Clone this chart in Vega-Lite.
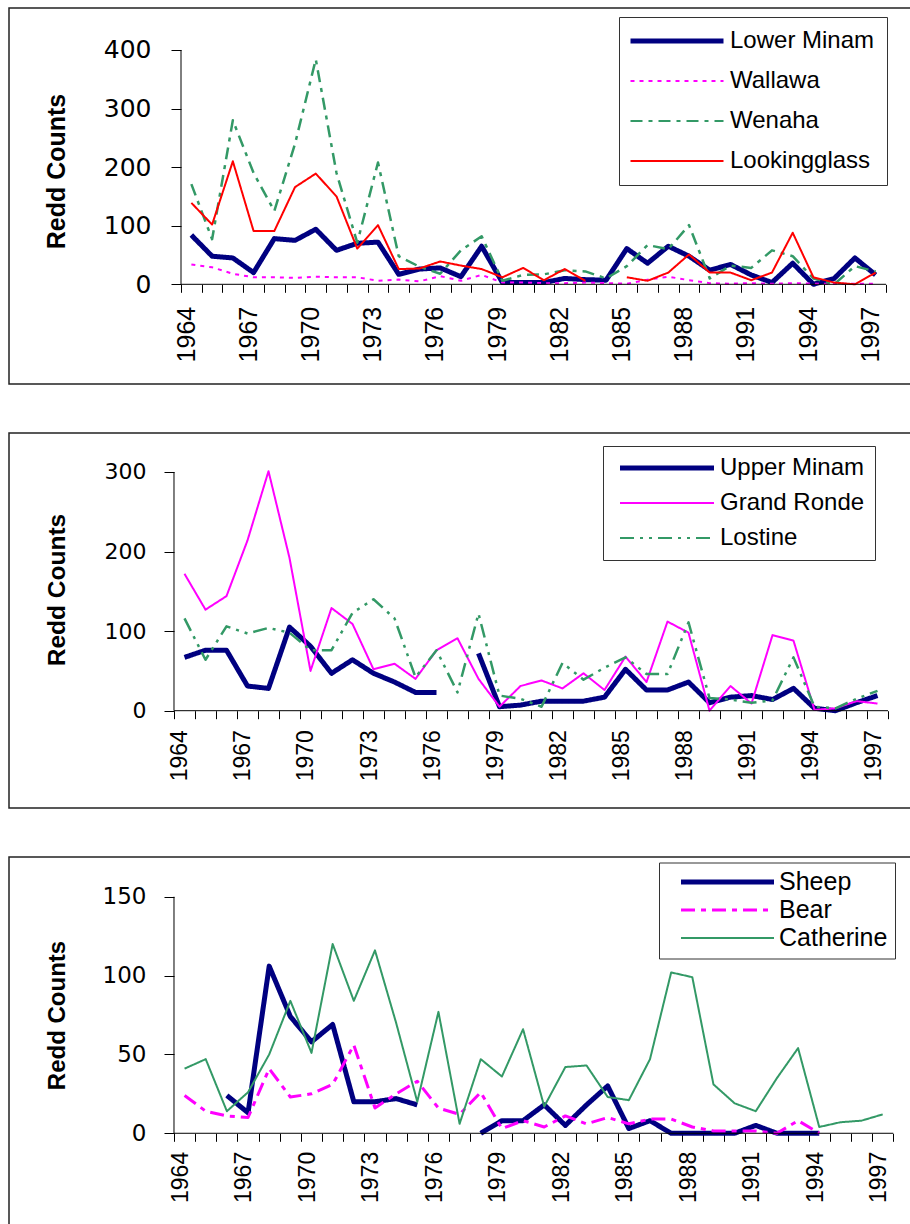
{
  "$schema": "https://vega.github.io/schema/vega-lite/v6.json",
  "background": "white",
  "padding": {"left": 8, "top": 7, "right": 0, "bottom": 0},
  "spacing": 47,
  "resolve": {"scale": {"color": "independent", "strokeDash": "independent"}, "legend": {"color": "independent", "strokeDash": "independent"}},
  "config": {
    "view": {"stroke": "#222", "strokeWidth": 1.5},
    "axis": {"labelColor": "#000", "tickColor": "#000", "titleColor": "#000", "grid": false, "domain": false, "ticks": true, "tickWidth": 1, "tickOpacity": 1, "labelOverlap": false, "labelFlush": false, "labelBound": false}
  },
  "datasets": {
    "d": [
      {"panel":1,"site":"Lower Minam","year":1964,"count":84},{"panel":1,"site":"Lower Minam","year":1965,"count":48},{"panel":1,"site":"Lower Minam","year":1966,"count":45},{"panel":1,"site":"Lower Minam","year":1967,"count":20},{"panel":1,"site":"Lower Minam","year":1968,"count":78},{"panel":1,"site":"Lower Minam","year":1969,"count":75},{"panel":1,"site":"Lower Minam","year":1970,"count":94},{"panel":1,"site":"Lower Minam","year":1971,"count":58},{"panel":1,"site":"Lower Minam","year":1972,"count":70},{"panel":1,"site":"Lower Minam","year":1973,"count":72},{"panel":1,"site":"Lower Minam","year":1974,"count":17},{"panel":1,"site":"Lower Minam","year":1975,"count":26},{"panel":1,"site":"Lower Minam","year":1976,"count":28},{"panel":1,"site":"Lower Minam","year":1977,"count":13},{"panel":1,"site":"Lower Minam","year":1978,"count":65},{"panel":1,"site":"Lower Minam","year":1979,"count":3},{"panel":1,"site":"Lower Minam","year":1980,"count":3},{"panel":1,"site":"Lower Minam","year":1981,"count":3},{"panel":1,"site":"Lower Minam","year":1982,"count":10},{"panel":1,"site":"Lower Minam","year":1983,"count":8},{"panel":1,"site":"Lower Minam","year":1984,"count":7},{"panel":1,"site":"Lower Minam","year":1985,"count":61},{"panel":1,"site":"Lower Minam","year":1986,"count":36},{"panel":1,"site":"Lower Minam","year":1987,"count":65},{"panel":1,"site":"Lower Minam","year":1988,"count":48},{"panel":1,"site":"Lower Minam","year":1989,"count":24},{"panel":1,"site":"Lower Minam","year":1990,"count":34},{"panel":1,"site":"Lower Minam","year":1991,"count":16},{"panel":1,"site":"Lower Minam","year":1992,"count":3},{"panel":1,"site":"Lower Minam","year":1993,"count":36},{"panel":1,"site":"Lower Minam","year":1994,"count":0},{"panel":1,"site":"Lower Minam","year":1995,"count":10},{"panel":1,"site":"Lower Minam","year":1996,"count":45},{"panel":1,"site":"Lower Minam","year":1997,"count":16},
      {"panel":1,"site":"Wallawa","year":1964,"count":34},{"panel":1,"site":"Wallawa","year":1965,"count":29},{"panel":1,"site":"Wallawa","year":1966,"count":18},{"panel":1,"site":"Wallawa","year":1967,"count":12},{"panel":1,"site":"Wallawa","year":1968,"count":12},{"panel":1,"site":"Wallawa","year":1969,"count":11},{"panel":1,"site":"Wallawa","year":1970,"count":13},{"panel":1,"site":"Wallawa","year":1971,"count":12},{"panel":1,"site":"Wallawa","year":1972,"count":12},{"panel":1,"site":"Wallawa","year":1973,"count":6},{"panel":1,"site":"Wallawa","year":1974,"count":8},{"panel":1,"site":"Wallawa","year":1975,"count":5},{"panel":1,"site":"Wallawa","year":1976,"count":14},{"panel":1,"site":"Wallawa","year":1977,"count":6},{"panel":1,"site":"Wallawa","year":1978,"count":16},{"panel":1,"site":"Wallawa","year":1979,"count":3},{"panel":1,"site":"Wallawa","year":1980,"count":3},{"panel":1,"site":"Wallawa","year":1981,"count":2},{"panel":1,"site":"Wallawa","year":1982,"count":2},{"panel":1,"site":"Wallawa","year":1983,"count":3},{"panel":1,"site":"Wallawa","year":1984,"count":2},{"panel":1,"site":"Wallawa","year":1985,"count":1},{"panel":1,"site":"Wallawa","year":1986,"count":8},{"panel":1,"site":"Wallawa","year":1987,"count":13},{"panel":1,"site":"Wallawa","year":1988,"count":7},{"panel":1,"site":"Wallawa","year":1989,"count":2},{"panel":1,"site":"Wallawa","year":1990,"count":1},{"panel":1,"site":"Wallawa","year":1991,"count":2},{"panel":1,"site":"Wallawa","year":1992,"count":1},{"panel":1,"site":"Wallawa","year":1993,"count":2},{"panel":1,"site":"Wallawa","year":1994,"count":1},{"panel":1,"site":"Wallawa","year":1995,"count":1},{"panel":1,"site":"Wallawa","year":1996,"count":1},{"panel":1,"site":"Wallawa","year":1997,"count":1},
      {"panel":1,"site":"Wenaha","year":1964,"count":171},{"panel":1,"site":"Wenaha","year":1965,"count":77},{"panel":1,"site":"Wenaha","year":1966,"count":280},{"panel":1,"site":"Wenaha","year":1967,"count":190},{"panel":1,"site":"Wenaha","year":1968,"count":125},{"panel":1,"site":"Wenaha","year":1969,"count":240},{"panel":1,"site":"Wenaha","year":1970,"count":384},{"panel":1,"site":"Wenaha","year":1971,"count":190},{"panel":1,"site":"Wenaha","year":1972,"count":71},{"panel":1,"site":"Wenaha","year":1973,"count":208},{"panel":1,"site":"Wenaha","year":1974,"count":48},{"panel":1,"site":"Wenaha","year":1975,"count":30},{"panel":1,"site":"Wenaha","year":1976,"count":18},{"panel":1,"site":"Wenaha","year":1977,"count":58},{"panel":1,"site":"Wenaha","year":1978,"count":82},{"panel":1,"site":"Wenaha","year":1979,"count":6},{"panel":1,"site":"Wenaha","year":1980,"count":16},{"panel":1,"site":"Wenaha","year":1981,"count":17},{"panel":1,"site":"Wenaha","year":1982,"count":24},{"panel":1,"site":"Wenaha","year":1983,"count":22},{"panel":1,"site":"Wenaha","year":1984,"count":10},{"panel":1,"site":"Wenaha","year":1985,"count":31},{"panel":1,"site":"Wenaha","year":1986,"count":67},{"panel":1,"site":"Wenaha","year":1987,"count":60},{"panel":1,"site":"Wenaha","year":1988,"count":101},{"panel":1,"site":"Wenaha","year":1989,"count":10},{"panel":1,"site":"Wenaha","year":1990,"count":32},{"panel":1,"site":"Wenaha","year":1991,"count":28},{"panel":1,"site":"Wenaha","year":1992,"count":58},{"panel":1,"site":"Wenaha","year":1993,"count":48},{"panel":1,"site":"Wenaha","year":1994,"count":10},{"panel":1,"site":"Wenaha","year":1995,"count":0},{"panel":1,"site":"Wenaha","year":1996,"count":31},{"panel":1,"site":"Wenaha","year":1997,"count":22},
      {"panel":1,"site":"Lookingglass","year":1964,"count":139},{"panel":1,"site":"Lookingglass","year":1965,"count":102},{"panel":1,"site":"Lookingglass","year":1966,"count":210},{"panel":1,"site":"Lookingglass","year":1967,"count":91},{"panel":1,"site":"Lookingglass","year":1968,"count":91},{"panel":1,"site":"Lookingglass","year":1969,"count":166},{"panel":1,"site":"Lookingglass","year":1970,"count":189},{"panel":1,"site":"Lookingglass","year":1971,"count":150},{"panel":1,"site":"Lookingglass","year":1972,"count":61},{"panel":1,"site":"Lookingglass","year":1973,"count":101},{"panel":1,"site":"Lookingglass","year":1974,"count":26},{"panel":1,"site":"Lookingglass","year":1975,"count":27},{"panel":1,"site":"Lookingglass","year":1976,"count":39},{"panel":1,"site":"Lookingglass","year":1977,"count":32},{"panel":1,"site":"Lookingglass","year":1978,"count":26},{"panel":1,"site":"Lookingglass","year":1979,"count":12},{"panel":1,"site":"Lookingglass","year":1980,"count":28},{"panel":1,"site":"Lookingglass","year":1981,"count":7},{"panel":1,"site":"Lookingglass","year":1982,"count":26},{"panel":1,"site":"Lookingglass","year":1983,"count":6},{"panel":1,"site":"Lookingglass","year":1984,"count":null},{"panel":1,"site":"Lookingglass","year":1985,"count":12},{"panel":1,"site":"Lookingglass","year":1986,"count":6},{"panel":1,"site":"Lookingglass","year":1987,"count":20},{"panel":1,"site":"Lookingglass","year":1988,"count":51},{"panel":1,"site":"Lookingglass","year":1989,"count":20},{"panel":1,"site":"Lookingglass","year":1990,"count":20},{"panel":1,"site":"Lookingglass","year":1991,"count":7},{"panel":1,"site":"Lookingglass","year":1992,"count":20},{"panel":1,"site":"Lookingglass","year":1993,"count":88},{"panel":1,"site":"Lookingglass","year":1994,"count":12},{"panel":1,"site":"Lookingglass","year":1995,"count":3},{"panel":1,"site":"Lookingglass","year":1996,"count":0},{"panel":1,"site":"Lookingglass","year":1997,"count":20},
      {"panel":2,"site":"Upper Minam","year":1964,"count":67},{"panel":2,"site":"Upper Minam","year":1965,"count":76},{"panel":2,"site":"Upper Minam","year":1966,"count":76},{"panel":2,"site":"Upper Minam","year":1967,"count":31},{"panel":2,"site":"Upper Minam","year":1968,"count":28},{"panel":2,"site":"Upper Minam","year":1969,"count":105},{"panel":2,"site":"Upper Minam","year":1970,"count":81},{"panel":2,"site":"Upper Minam","year":1971,"count":47},{"panel":2,"site":"Upper Minam","year":1972,"count":64},{"panel":2,"site":"Upper Minam","year":1973,"count":47},{"panel":2,"site":"Upper Minam","year":1974,"count":36},{"panel":2,"site":"Upper Minam","year":1975,"count":23},{"panel":2,"site":"Upper Minam","year":1976,"count":23},{"panel":2,"site":"Upper Minam","year":1977,"count":null},{"panel":2,"site":"Upper Minam","year":1978,"count":72},{"panel":2,"site":"Upper Minam","year":1979,"count":5},{"panel":2,"site":"Upper Minam","year":1980,"count":7},{"panel":2,"site":"Upper Minam","year":1981,"count":12},{"panel":2,"site":"Upper Minam","year":1982,"count":12},{"panel":2,"site":"Upper Minam","year":1983,"count":12},{"panel":2,"site":"Upper Minam","year":1984,"count":17},{"panel":2,"site":"Upper Minam","year":1985,"count":52},{"panel":2,"site":"Upper Minam","year":1986,"count":26},{"panel":2,"site":"Upper Minam","year":1987,"count":26},{"panel":2,"site":"Upper Minam","year":1988,"count":36},{"panel":2,"site":"Upper Minam","year":1989,"count":10},{"panel":2,"site":"Upper Minam","year":1990,"count":17},{"panel":2,"site":"Upper Minam","year":1991,"count":19},{"panel":2,"site":"Upper Minam","year":1992,"count":14},{"panel":2,"site":"Upper Minam","year":1993,"count":28},{"panel":2,"site":"Upper Minam","year":1994,"count":3},{"panel":2,"site":"Upper Minam","year":1995,"count":0},{"panel":2,"site":"Upper Minam","year":1996,"count":10},{"panel":2,"site":"Upper Minam","year":1997,"count":19},
      {"panel":2,"site":"Grand Ronde","year":1964,"count":172},{"panel":2,"site":"Grand Ronde","year":1965,"count":127},{"panel":2,"site":"Grand Ronde","year":1966,"count":144},{"panel":2,"site":"Grand Ronde","year":1967,"count":214},{"panel":2,"site":"Grand Ronde","year":1968,"count":301},{"panel":2,"site":"Grand Ronde","year":1969,"count":192},{"panel":2,"site":"Grand Ronde","year":1970,"count":50},{"panel":2,"site":"Grand Ronde","year":1971,"count":129},{"panel":2,"site":"Grand Ronde","year":1972,"count":109},{"panel":2,"site":"Grand Ronde","year":1973,"count":52},{"panel":2,"site":"Grand Ronde","year":1974,"count":59},{"panel":2,"site":"Grand Ronde","year":1975,"count":40},{"panel":2,"site":"Grand Ronde","year":1976,"count":76},{"panel":2,"site":"Grand Ronde","year":1977,"count":91},{"panel":2,"site":"Grand Ronde","year":1978,"count":40},{"panel":2,"site":"Grand Ronde","year":1979,"count":5},{"panel":2,"site":"Grand Ronde","year":1980,"count":31},{"panel":2,"site":"Grand Ronde","year":1981,"count":38},{"panel":2,"site":"Grand Ronde","year":1982,"count":28},{"panel":2,"site":"Grand Ronde","year":1983,"count":47},{"panel":2,"site":"Grand Ronde","year":1984,"count":26},{"panel":2,"site":"Grand Ronde","year":1985,"count":68},{"panel":2,"site":"Grand Ronde","year":1986,"count":36},{"panel":2,"site":"Grand Ronde","year":1987,"count":112},{"panel":2,"site":"Grand Ronde","year":1988,"count":98},{"panel":2,"site":"Grand Ronde","year":1989,"count":0},{"panel":2,"site":"Grand Ronde","year":1990,"count":31},{"panel":2,"site":"Grand Ronde","year":1991,"count":9},{"panel":2,"site":"Grand Ronde","year":1992,"count":95},{"panel":2,"site":"Grand Ronde","year":1993,"count":88},{"panel":2,"site":"Grand Ronde","year":1994,"count":1},{"panel":2,"site":"Grand Ronde","year":1995,"count":3},{"panel":2,"site":"Grand Ronde","year":1996,"count":12},{"panel":2,"site":"Grand Ronde","year":1997,"count":9},
      {"panel":2,"site":"Lostine","year":1964,"count":116},{"panel":2,"site":"Lostine","year":1965,"count":64},{"panel":2,"site":"Lostine","year":1966,"count":106},{"panel":2,"site":"Lostine","year":1967,"count":97},{"panel":2,"site":"Lostine","year":1968,"count":104},{"panel":2,"site":"Lostine","year":1969,"count":98},{"panel":2,"site":"Lostine","year":1970,"count":76},{"panel":2,"site":"Lostine","year":1971,"count":76},{"panel":2,"site":"Lostine","year":1972,"count":123},{"panel":2,"site":"Lostine","year":1973,"count":140},{"panel":2,"site":"Lostine","year":1974,"count":116},{"panel":2,"site":"Lostine","year":1975,"count":42},{"panel":2,"site":"Lostine","year":1976,"count":76},{"panel":2,"site":"Lostine","year":1977,"count":23},{"panel":2,"site":"Lostine","year":1978,"count":122},{"panel":2,"site":"Lostine","year":1979,"count":19},{"panel":2,"site":"Lostine","year":1980,"count":15},{"panel":2,"site":"Lostine","year":1981,"count":5},{"panel":2,"site":"Lostine","year":1982,"count":60},{"panel":2,"site":"Lostine","year":1983,"count":39},{"panel":2,"site":"Lostine","year":1984,"count":54},{"panel":2,"site":"Lostine","year":1985,"count":67},{"panel":2,"site":"Lostine","year":1986,"count":46},{"panel":2,"site":"Lostine","year":1987,"count":46},{"panel":2,"site":"Lostine","year":1988,"count":111},{"panel":2,"site":"Lostine","year":1989,"count":16},{"panel":2,"site":"Lostine","year":1990,"count":14},{"panel":2,"site":"Lostine","year":1991,"count":10},{"panel":2,"site":"Lostine","year":1992,"count":13},{"panel":2,"site":"Lostine","year":1993,"count":67},{"panel":2,"site":"Lostine","year":1994,"count":5},{"panel":2,"site":"Lostine","year":1995,"count":3},{"panel":2,"site":"Lostine","year":1996,"count":15},{"panel":2,"site":"Lostine","year":1997,"count":25},
      {"panel":3,"site":"Sheep","year":1966,"count":24},{"panel":3,"site":"Sheep","year":1967,"count":13},{"panel":3,"site":"Sheep","year":1968,"count":106},{"panel":3,"site":"Sheep","year":1969,"count":74},{"panel":3,"site":"Sheep","year":1970,"count":58},{"panel":3,"site":"Sheep","year":1971,"count":69},{"panel":3,"site":"Sheep","year":1972,"count":20},{"panel":3,"site":"Sheep","year":1973,"count":20},{"panel":3,"site":"Sheep","year":1974,"count":22},{"panel":3,"site":"Sheep","year":1975,"count":18},{"panel":3,"site":"Sheep","year":1976,"count":null},{"panel":3,"site":"Sheep","year":1977,"count":null},{"panel":3,"site":"Sheep","year":1978,"count":0},{"panel":3,"site":"Sheep","year":1979,"count":8},{"panel":3,"site":"Sheep","year":1980,"count":8},{"panel":3,"site":"Sheep","year":1981,"count":18},{"panel":3,"site":"Sheep","year":1982,"count":5},{"panel":3,"site":"Sheep","year":1983,"count":18},{"panel":3,"site":"Sheep","year":1984,"count":30},{"panel":3,"site":"Sheep","year":1985,"count":3},{"panel":3,"site":"Sheep","year":1986,"count":8},{"panel":3,"site":"Sheep","year":1987,"count":0},{"panel":3,"site":"Sheep","year":1988,"count":0},{"panel":3,"site":"Sheep","year":1989,"count":0},{"panel":3,"site":"Sheep","year":1990,"count":0},{"panel":3,"site":"Sheep","year":1991,"count":5},{"panel":3,"site":"Sheep","year":1992,"count":0},{"panel":3,"site":"Sheep","year":1993,"count":0},{"panel":3,"site":"Sheep","year":1994,"count":0},
      {"panel":3,"site":"Bear","year":1964,"count":24},{"panel":3,"site":"Bear","year":1965,"count":14},{"panel":3,"site":"Bear","year":1966,"count":11},{"panel":3,"site":"Bear","year":1967,"count":10},{"panel":3,"site":"Bear","year":1968,"count":41},{"panel":3,"site":"Bear","year":1969,"count":23},{"panel":3,"site":"Bear","year":1970,"count":25},{"panel":3,"site":"Bear","year":1971,"count":31},{"panel":3,"site":"Bear","year":1972,"count":56},{"panel":3,"site":"Bear","year":1973,"count":16},{"panel":3,"site":"Bear","year":1974,"count":25},{"panel":3,"site":"Bear","year":1975,"count":33},{"panel":3,"site":"Bear","year":1976,"count":16},{"panel":3,"site":"Bear","year":1977,"count":12},{"panel":3,"site":"Bear","year":1978,"count":26},{"panel":3,"site":"Bear","year":1979,"count":3},{"panel":3,"site":"Bear","year":1980,"count":8},{"panel":3,"site":"Bear","year":1981,"count":4},{"panel":3,"site":"Bear","year":1982,"count":11},{"panel":3,"site":"Bear","year":1983,"count":6},{"panel":3,"site":"Bear","year":1984,"count":10},{"panel":3,"site":"Bear","year":1985,"count":6},{"panel":3,"site":"Bear","year":1986,"count":9},{"panel":3,"site":"Bear","year":1987,"count":9},{"panel":3,"site":"Bear","year":1988,"count":4},{"panel":3,"site":"Bear","year":1989,"count":1.5},{"panel":3,"site":"Bear","year":1990,"count":1.5},{"panel":3,"site":"Bear","year":1991,"count":1.5},{"panel":3,"site":"Bear","year":1992,"count":0},{"panel":3,"site":"Bear","year":1993,"count":8},{"panel":3,"site":"Bear","year":1994,"count":0},
      {"panel":3,"site":"Catherine","year":1964,"count":41},{"panel":3,"site":"Catherine","year":1965,"count":47},{"panel":3,"site":"Catherine","year":1966,"count":14},{"panel":3,"site":"Catherine","year":1967,"count":26},{"panel":3,"site":"Catherine","year":1968,"count":50},{"panel":3,"site":"Catherine","year":1969,"count":84},{"panel":3,"site":"Catherine","year":1970,"count":51},{"panel":3,"site":"Catherine","year":1971,"count":120},{"panel":3,"site":"Catherine","year":1972,"count":84},{"panel":3,"site":"Catherine","year":1973,"count":116},{"panel":3,"site":"Catherine","year":1974,"count":70},{"panel":3,"site":"Catherine","year":1975,"count":20},{"panel":3,"site":"Catherine","year":1976,"count":77},{"panel":3,"site":"Catherine","year":1977,"count":6},{"panel":3,"site":"Catherine","year":1978,"count":47},{"panel":3,"site":"Catherine","year":1979,"count":36},{"panel":3,"site":"Catherine","year":1980,"count":66},{"panel":3,"site":"Catherine","year":1981,"count":17},{"panel":3,"site":"Catherine","year":1982,"count":42},{"panel":3,"site":"Catherine","year":1983,"count":43},{"panel":3,"site":"Catherine","year":1984,"count":23},{"panel":3,"site":"Catherine","year":1985,"count":21},{"panel":3,"site":"Catherine","year":1986,"count":47},{"panel":3,"site":"Catherine","year":1987,"count":102},{"panel":3,"site":"Catherine","year":1988,"count":99},{"panel":3,"site":"Catherine","year":1989,"count":31},{"panel":3,"site":"Catherine","year":1990,"count":19},{"panel":3,"site":"Catherine","year":1991,"count":14},{"panel":3,"site":"Catherine","year":1992,"count":35},{"panel":3,"site":"Catherine","year":1993,"count":54},{"panel":3,"site":"Catherine","year":1994,"count":4},{"panel":3,"site":"Catherine","year":1995,"count":7},{"panel":3,"site":"Catherine","year":1996,"count":8},{"panel":3,"site":"Catherine","year":1997,"count":12}
    ]
  },
  "vconcat": [
    {
      "width": 902, "height": 376,
      "encoding": {
        "x": {"type": "quantitative", "scale": {"domain": [1955.205, 1998.705], "nice": false, "zero": false},
          "axis": {"title": null, "offset": -99.7, "values": [1963.5,1964.5,1965.5,1966.5,1967.5,1968.5,1969.5,1970.5,1971.5,1972.5,1973.5,1974.5,1975.5,1976.5,1977.5,1978.5,1979.5,1980.5,1981.5,1982.5,1983.5,1984.5,1985.5,1986.5,1987.5,1988.5,1989.5,1990.5,1991.5,1992.5,1993.5,1994.5,1995.5,1996.5,1997.5],
            "labelExpr": "(datum.value + 0.5 - 1964) % 3 == 0 ? '' + (datum.value + 0.5) : ''", "labelOverlap": false, "ticks": true, "tickColor": "#000", "tickWidth": 1, "labelAngle": 270, "labelAlign": "right", "labelBaseline": "middle", "labelOffset": 5, "labelPadding": 14, "tickSize": 8, "labelFont": "Liberation Sans", "labelFontSize": 25}},
        "y": {"type": "quantitative", "scale": {"domain": [-170.2, 471.7], "nice": false, "zero": false},
          "axis": {"title": "Redd Counts", "offset": -172, "values": [0,100,200,300,400], "tickSize": 10, "labelPadding": 20, "labelFont": "DejaVu Sans", "labelFontSize": 25, "titleFont": "Liberation Sans", "titleFontSize": 25, "titleFontWeight": "bold", "titleX": -125, "titleY": 163, "titleAngle": 270, "titleAlign": "center", "titleBaseline": "middle"}}
      },
      "layer": [
        {
          "data": {"name": "d"},
          "transform": [{"filter": "datum.panel == 1"}],
          "mark": {"type": "line", "invalid": "break-paths-filter-domains", "strokeJoin": "round"},
          "encoding": {
            "x": {"field": "year"},
            "y": {"field": "count"},
            "color": {"field": "site", "type": "nominal", "scale": {"domain": ["Lower Minam","Wallawa","Wenaha","Lookingglass"], "range": ["#000080","#FF00FF","#339966","#FF0000"]},
              "legend": {"title": null, "orient": "none", "legendX": 610, "legendY": 9, "padding": 12, "rowPadding": 16, "symbolType": "stroke", "symbolSize": 8649, "symbolOffset": 34, "labelOffset": 41, "labelFont": "Liberation Sans", "labelFontSize": 24, "labelColor": "#000", "labelLimit": 400, "strokeColor": "#333", "fillColor": "white",
                "encode": {"symbols": {"update": {"strokeWidth": {"signal": "datum.value == 'Lower Minam' ? 5 : 2"}}}}}},
            "strokeDash": {"field": "site", "type": "nominal", "scale": {"domain": ["Lower Minam","Wallawa","Wenaha","Lookingglass"], "range": [[1,0],[4,5],[12,6,4,6],[1,0]]}},
            "strokeWidth": {"condition": [{"test": "datum.site == 'Lower Minam'", "value": 5}, {"test": "datum.site == 'Wenaha'", "value": 2.5}], "value": 2}
          }
        },
        {
          "data": {"values": [{}]},
          "mark": {"type": "rule", "color": "#000", "strokeWidth": 1},
          "encoding": {"x": {"datum": 1963.5}, "y": {"datum": 0}, "y2": {"datum": 400}}
        },
        {
          "data": {"values": [{}]},
          "mark": {"type": "rule", "color": "#000", "strokeWidth": 1},
          "encoding": {"x": {"datum": 1963.5}, "x2": {"datum": 1997.5}, "y": {"datum": 0}}
        }
      ]
    },
    {
      "width": 902, "height": 375,
      "encoding": {
        "x": {"type": "quantitative", "scale": {"domain": [1955.643, 1998.595], "nice": false, "zero": false},
          "axis": {"title": null, "offset": -97.3, "values": [1963.5,1964.5,1965.5,1966.5,1967.5,1968.5,1969.5,1970.5,1971.5,1972.5,1973.5,1974.5,1975.5,1976.5,1977.5,1978.5,1979.5,1980.5,1981.5,1982.5,1983.5,1984.5,1985.5,1986.5,1987.5,1988.5,1989.5,1990.5,1991.5,1992.5,1993.5,1994.5,1995.5,1996.5,1997.5],
            "labelExpr": "(datum.value + 0.5 - 1964) % 3 == 0 ? '' + (datum.value + 0.5) : ''", "labelOverlap": false, "ticks": true, "tickColor": "#000", "tickWidth": 1, "labelAngle": 270, "labelAlign": "right", "labelBaseline": "middle", "labelOffset": 6, "labelPadding": 11, "tickSize": 8, "labelFont": "Liberation Sans", "labelFontSize": 23}},
        "y": {"type": "quantitative", "scale": {"domain": [-122.3, 349.0], "nice": false, "zero": false},
          "axis": {"title": "Redd Counts", "offset": -165, "values": [0,100,200,300], "tickSize": 10, "labelPadding": 18, "labelFont": "DejaVu Sans", "labelFontSize": 22, "titleFont": "Liberation Sans", "titleFontSize": 24.5, "titleFontWeight": "bold", "titleX": -117, "titleY": 156.5, "titleAngle": 270, "titleAlign": "center", "titleBaseline": "middle"}}
      },
      "layer": [
        {
          "data": {"name": "d"},
          "transform": [{"filter": "datum.panel == 2"}],
          "mark": {"type": "line", "invalid": "break-paths-filter-domains", "strokeJoin": "round"},
          "encoding": {
            "x": {"field": "year"},
            "y": {"field": "count"},
            "color": {"field": "site", "type": "nominal", "scale": {"domain": ["Upper Minam","Grand Ronde","Lostine"], "range": ["#000080","#FF00FF","#339966"]},
              "legend": {"title": null, "orient": "none", "legendX": 594, "legendY": 13, "padding": 10, "rowPadding": 11, "symbolType": "stroke", "symbolSize": 8836, "symbolOffset": 42, "labelOffset": 41, "labelFont": "Liberation Sans", "labelFontSize": 24, "labelColor": "#000", "labelLimit": 400, "strokeColor": "#333", "fillColor": "white",
                "encode": {"symbols": {"update": {"strokeWidth": {"signal": "datum.value == 'Upper Minam' ? 5 : 2"}}}}}},
            "strokeDash": {"field": "site", "type": "nominal", "scale": {"domain": ["Upper Minam","Grand Ronde","Lostine"], "range": [[1,0],[1,0],[14,6,3,6,3,6]]}},
            "strokeWidth": {"condition": [{"test": "datum.site == 'Upper Minam'", "value": 5}, {"test": "datum.site == 'Lostine'", "value": 2.5}], "value": 2}
          }
        },
        {
          "data": {"values": [{}]},
          "mark": {"type": "rule", "color": "#000", "strokeWidth": 1},
          "encoding": {"x": {"datum": 1963.5}, "y": {"datum": 0}, "y2": {"datum": 300}}
        },
        {
          "data": {"values": [{}]},
          "mark": {"type": "rule", "color": "#000", "strokeWidth": 1},
          "encoding": {"x": {"datum": 1963.5}, "x2": {"datum": 1997.5}, "y": {"datum": 0}}
        }
      ]
    },
    {
      "width": 902, "height": 372,
      "encoding": {
        "x": {"type": "quantitative", "scale": {"domain": [1955.701, 1998.337], "nice": false, "zero": false},
          "axis": {"title": null, "offset": -95.7, "values": [1963.5,1964.5,1965.5,1966.5,1967.5,1968.5,1969.5,1970.5,1971.5,1972.5,1973.5,1974.5,1975.5,1976.5,1977.5,1978.5,1979.5,1980.5,1981.5,1982.5,1983.5,1984.5,1985.5,1986.5,1987.5,1988.5,1989.5,1990.5,1991.5,1992.5,1993.5,1994.5,1995.5,1996.5,1997.5],
            "labelExpr": "(datum.value + 0.5 - 1964) % 3 == 0 ? '' + (datum.value + 0.5) : ''", "labelOverlap": false, "ticks": true, "tickColor": "#000", "tickWidth": 1, "labelAngle": 270, "labelAlign": "right", "labelBaseline": "middle", "labelOffset": 6.5, "labelPadding": 10, "tickSize": 8, "labelFont": "Liberation Sans", "labelFontSize": 23}},
        "y": {"type": "quantitative", "scale": {"domain": [-60.7, 175.2], "nice": false, "zero": false},
          "axis": {"title": "Redd Counts", "offset": -165, "values": [0,50,100,150], "tickSize": 10, "labelPadding": 18, "labelFont": "DejaVu Sans", "labelFontSize": 23, "titleFont": "Liberation Sans", "titleFontSize": 24, "titleFontWeight": "bold", "titleX": -117, "titleY": 158, "titleAngle": 270, "titleAlign": "center", "titleBaseline": "middle"}}
      },
      "layer": [
        {
          "data": {"name": "d"},
          "transform": [{"filter": "datum.panel == 3"}],
          "mark": {"type": "line", "invalid": "break-paths-filter-domains", "strokeJoin": "round"},
          "encoding": {
            "x": {"field": "year"},
            "y": {"field": "count"},
            "color": {"field": "site", "type": "nominal", "scale": {"domain": ["Sheep","Bear","Catherine"], "range": ["#000080","#FF00FF","#339966"]},
              "legend": {"title": null, "orient": "none", "legendX": 650, "legendY": 5.5, "padding": 7, "rowPadding": 2, "symbolType": "stroke", "symbolSize": 8649, "symbolOffset": 49, "labelOffset": 39, "labelFont": "Liberation Sans", "labelFontSize": 25, "labelColor": "#000", "labelLimit": 400, "strokeColor": "#333", "fillColor": "white",
                "encode": {"symbols": {"update": {"strokeWidth": {"signal": "datum.value == 'Sheep' ? 5 : datum.value == 'Bear' ? 3 : 2"}}}}}},
            "strokeDash": {"field": "site", "type": "nominal", "scale": {"domain": ["Sheep","Bear","Catherine"], "range": [[1,0],[14,6,5,6],[1,0]]}},
            "strokeWidth": {"condition": [{"test": "datum.site == 'Sheep'", "value": 5}, {"test": "datum.site == 'Bear'", "value": 3}], "value": 2}
          }
        },
        {
          "data": {"values": [{}]},
          "mark": {"type": "rule", "color": "#000", "strokeWidth": 1},
          "encoding": {"x": {"datum": 1963.5}, "y": {"datum": 0}, "y2": {"datum": 150}}
        },
        {
          "data": {"values": [{}]},
          "mark": {"type": "rule", "color": "#000", "strokeWidth": 1},
          "encoding": {"x": {"datum": 1963.5}, "x2": {"datum": 1997.5}, "y": {"datum": 0}}
        }
      ]
    }
  ]
}
